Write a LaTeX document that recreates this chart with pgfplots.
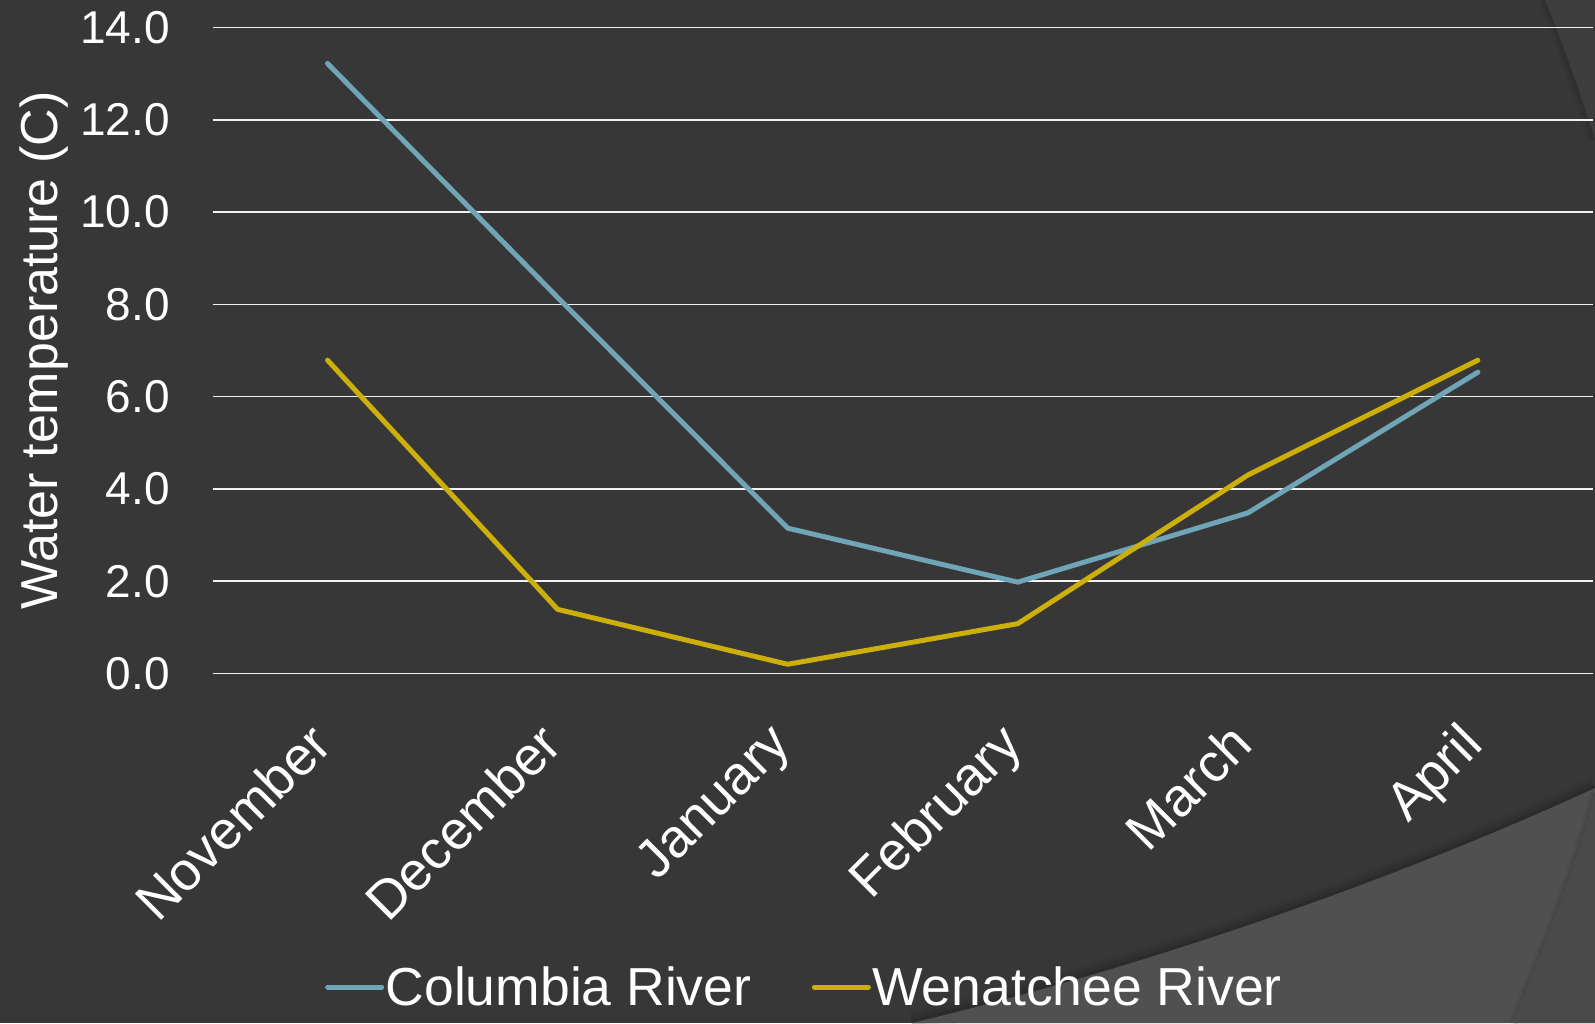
\documentclass[border=0pt]{standalone}
\usepackage{fontspec}
\setmainfont{Liberation Sans}
\usepackage{pgfplots}
\pgfplotsset{compat=1.18}

\definecolor{bgdark}{HTML}{373737}
\definecolor{bglight}{HTML}{505050}
\definecolor{bgside}{HTML}{4A4A4A}
\definecolor{bgtop}{HTML}{3D3D3D}
\definecolor{columbia}{HTML}{6FA5B7}
\definecolor{wenatchee}{HTML}{CDAF0B}
\definecolor{gridcol}{HTML}{F2F2F2}

\begin{document}
\begin{tikzpicture}
  % slide background
  \path[use as bounding box] (0pt,0pt) rectangle (1595pt,1023pt);
  \fill[bgdark] (0pt,0pt) rectangle (1595pt,1023pt);
  % upper-right sweep
  \foreach \w/\o in {14/0.04,8/0.06}{
    \draw[black, opacity=\o, line width=\w pt] (1545pt,1023pt) .. controls (1565pt,975pt) and (1582pt,925pt) .. (1595pt,883pt);
  }
  \fill[bgtop] (1545pt,1023pt) .. controls (1565pt,975pt) and (1582pt,925pt) .. (1595pt,883pt) -- (1595pt,1023pt) -- cycle;
  % lower-right sweep with soft shadow
  \foreach \w/\o in {22/0.05,14/0.07,7/0.09}{
    \draw[black, opacity=\o, line width=\w pt] (912pt,0pt) .. controls (1150pt,57pt) and (1400pt,145pt) .. (1595pt,235pt);
  }
  \fill[bglight] (912pt,0pt) .. controls (1150pt,57pt) and (1400pt,145pt) .. (1595pt,235pt) -- (1595pt,0pt) -- cycle;
  \foreach \w/\o in {10/0.04,5/0.06}{
    \draw[black, opacity=\o, line width=\w pt] (1513pt,0pt) .. controls (1550pt,90pt) and (1580pt,170pt) .. (1595pt,230pt);
  }
  \fill[bgside] (1513pt,0pt) .. controls (1550pt,90pt) and (1580pt,170pt) .. (1595pt,230pt) -- (1595pt,0pt) -- cycle;

  \begin{axis}[
    at={(212.5pt,349.5pt)}, anchor=south west,
    scale only axis, width=1380.5pt, height=646pt,
    xmin=-0.5, xmax=5.5, ymin=0, ymax=14,
    clip=false,
    axis line style={draw=none},
    tick style={draw=none},
    xtick={0,1,2,3,4,5},
    xticklabels={November,December,January,February,March,April},
    ytick={0,2,4,6,8,10,12,14},
    ymajorgrids,
    major grid style={gridcol, line width=1.6pt},
    yticklabel style={font=\fontsize{46}{52}\selectfont, text=white, inner sep=0pt, anchor=east, xshift=-42.5pt,
      /pgf/number format/fixed, /pgf/number format/fixed zerofill, /pgf/number format/precision=1,
      /pgf/number format/assume math mode=true},
    xticklabel style={xshift=-21pt, yshift=-46pt, font=\fontsize{54}{62}\selectfont, text=white, inner sep=0pt, rotate=45, anchor=north east},
    ylabel={Water temperature (C)},
    ylabel style={font=\fontsize{52}{60}\selectfont, text=white, at={(axis description cs:-0.1221,0.5)}, anchor=center},
    legend columns=2,
    legend style={at={(axis description cs:0.0815,-0.4853)}, anchor=west, draw=none, fill=none, inner sep=0pt,
      font=\fontsize{53.5}{60}\selectfont, text=white,
      nodes={inner sep=1.5pt},
      /tikz/every even column/.append style={column sep=59pt}},
    legend cell align=left,
    legend image code/.code={\draw[#1, line cap=round] (0pt,0pt) -- (54pt,0pt);},
  ]
    \addplot[columbia, line width=5pt, line cap=round, line join=round] coordinates {
      (0,13.22) (1,8.15) (2,3.15) (3,1.98) (4,3.48) (5,6.53)
    };
    \addlegendentry{Columbia River}
    \addplot[wenatchee, line width=5pt, line cap=round, line join=round] coordinates {
      (0,6.79) (1,1.39) (2,0.20) (3,1.08) (4,4.30) (5,6.79)
    };
    \addlegendentry{Wenatchee River}
  \end{axis}
\end{tikzpicture}
\end{document}
